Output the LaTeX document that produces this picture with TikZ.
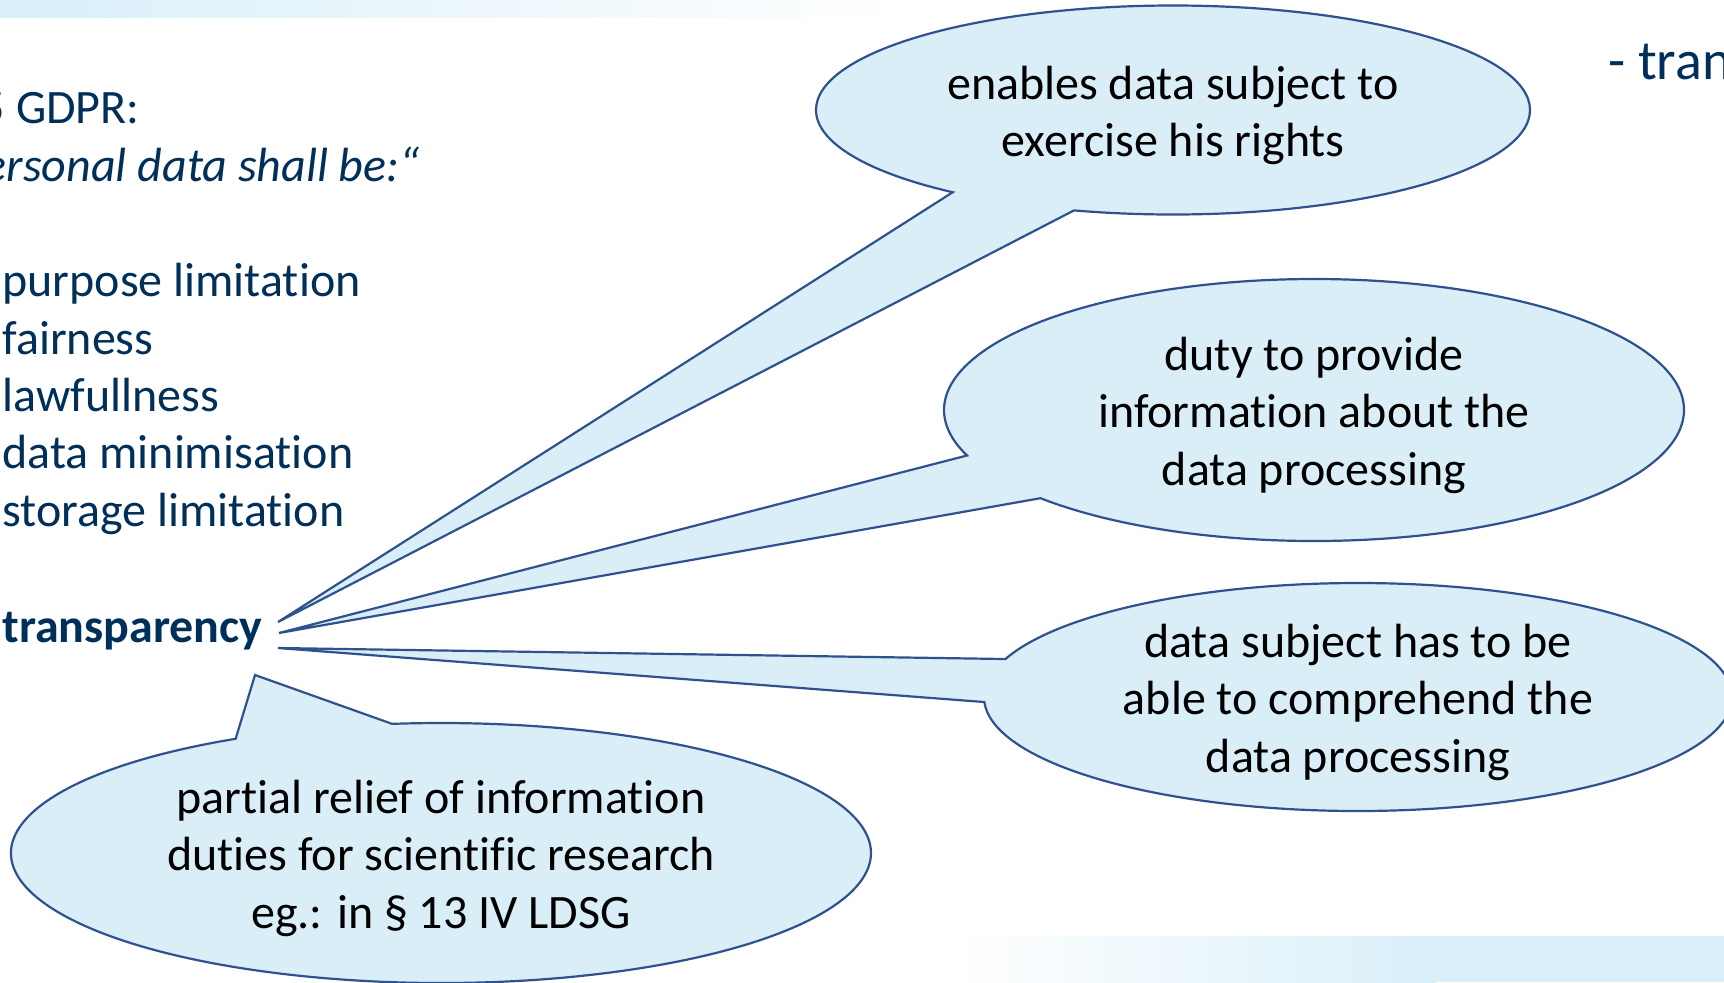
\documentclass[tikz,border=0pt]{standalone}
\usepackage{fontspec}
\setmainfont{Carlito}[Ligatures=NoCommon]
\usetikzlibrary{shapes.callouts,positioning}

\definecolor{navytext}{RGB}{0,48,90}
\definecolor{bubblefill}{RGB}{218,238,248}
\definecolor{bubbleline}{RGB}{47,82,143}
\definecolor{barblue}{RGB}{217,239,249}

% sets the first line of a callout a little lower
\newcommand\topstrut{\rule{0pt}{22pt}}

\begin{document}
\begin{tikzpicture}[x=0.5pt,y=-0.5pt,
    listtext/.style={text=navytext, font=\fontsize{24pt}{28.75pt}\selectfont, inner sep=0pt, anchor=base west},
    bubble/.style={ellipse callout, draw=bubbleline, fill=bubblefill, line width=1.1pt, inner xsep=0pt,
        inner ysep=-6pt, align=center, callout pointer arc=22, font=\fontsize{24pt}{28.75pt}\selectfont}]

    \useasboundingbox (0,0) rectangle (1724,982);
    \clip (0,0) rectangle (1724,982);
    \fill[white] (0,0) rectangle (1724,982);

    % Top bar
    \shade[left color=barblue, right color=white] (0,0) rectangle (910,17);

    % Bottom bar
    \shade[left color=white, right color=barblue] (952,936) rectangle (1436,982);
    \fill[barblue] (1436,936) rectangle (1724,982);

    % Heading and principles
    \node[listtext] (heading) at (1608,79) {\fontsize{28pt}{34pt}\selectfont - tran};
    \node[listtext, anchor=base east] (gdpr) at (140,123) {5 GDPR:};
    \node[listtext, anchor=base east] (quote) at (420,181) {\itshape ersonal data shall be:“};
    \foreach \txt [count=\i] in {purpose limitation, fairness, lawfullness, data minimisation, storage limitation}
        \node[listtext] (item\i) at (2,239.6+57.3*\i) {\txt};
    \node[listtext] (transp) at (2,642) {\bfseries transparency};

    % Pointer tips
    \coordinate (tip1) at (278,622);
    \coordinate (tip2) at (279,633);
    \coordinate (tip3) at (278,648);
    \coordinate (tip4) at (255,675);

    % Callouts
    \node[bubble, minimum width=357pt, minimum height=104.5pt, callout absolute pointer={(tip1)}]
        (rights) at (1173,110) {\topstrut enables data subject to\\exercise his rights};
    \node[bubble, minimum width=370pt, minimum height=131pt, callout absolute pointer={(tip2)}]
        (inform) at (1314,410) {\topstrut duty to provide\\information about the\\data processing};
    \node[bubble, minimum width=374pt, minimum height=114pt, callout absolute pointer={(tip3)}]
        (comprehend) at (1358,697) {\topstrut data subject has to be\\able to comprehend the\\data processing};
    \node[bubble, minimum width=430pt, minimum height=130pt, callout absolute pointer={(tip4)}]
        (relief) at (441,853) {\topstrut partial relief of information\\duties for scientific research\\eg.: in § 13 IV LDSG};
\end{tikzpicture}
\end{document}
